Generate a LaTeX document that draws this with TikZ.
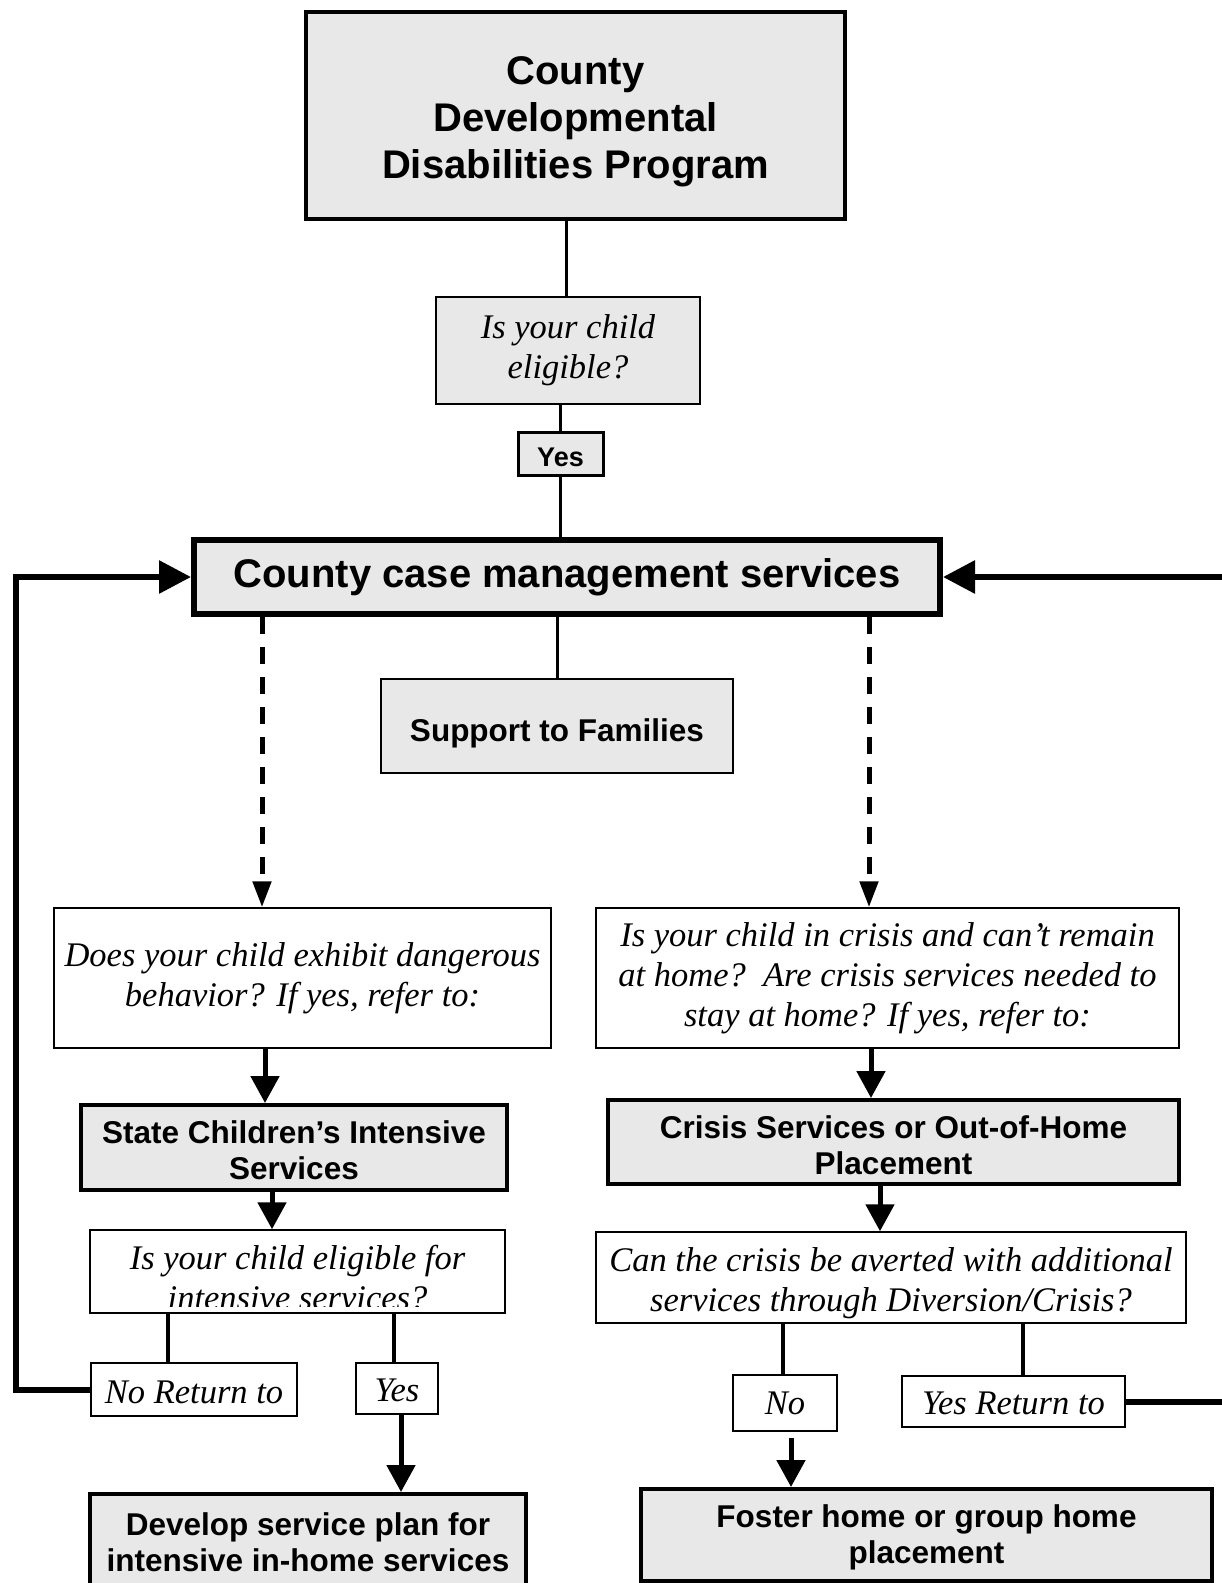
\documentclass[tikz,border=0pt]{standalone}
\usepackage{fontspec}
\setmainfont{Liberation Serif}
\setsansfont{Liberation Sans}
\usetikzlibrary{arrows.meta}
\definecolor{boxgray}{RGB}{232,232,232}
\begin{document}
\begin{tikzpicture}[x=1pt,y=-1pt,
  every node/.style={inner sep=0pt, align=center, rectangle},
  bigfont/.style={font=\sffamily\bfseries\fontsize{40}{47}\selectfont},
  midfont/.style={font=\sffamily\bfseries\fontsize{31.5}{36}\selectfont},
  qfont/.style={font=\rmfamily\itshape\fontsize{34.5}{40}\selectfont},
  yesfont/.style={font=\sffamily\bfseries\fontsize{27}{31}\selectfont},
  topbox/.style={draw, fill=boxgray, line width=4.5pt, bigfont},
  casebox/.style={draw, fill=boxgray, line width=6pt, bigfont},
  boldbox/.style={draw, fill=boxgray, line width=4pt, midfont},
  supbox/.style={draw, fill=boxgray, line width=2pt, midfont},
  yesbox/.style={draw, fill=boxgray, line width=3pt, yesfont},
  graybq/.style={draw, fill=boxgray, line width=1.5pt, qfont},
  qbox/.style={draw, fill=white, line width=1.5pt, qfont},
  conn/.style={line width=3pt},
  solidarrow/.style={line width=5pt, -{Triangle[length=27pt,width=28pt]}},
  dasharrow/.style={line width=5pt, dash pattern=on 17pt off 13pt, -{Triangle[length=26pt,width=18pt]}},
  retarrow/.style={line width=6pt, line join=miter, -{Triangle[length=32pt,width=32pt]}},
]
\useasboundingbox (0,0) rectangle (1222,1583);
\clip (0,0) rectangle (1222,1583);

% x positions of connectors
\coordinate (xT) at (566,0);
\coordinate (xL) at (262,0);
\coordinate (xR) at (869,0);
\coordinate (xA) at (265,0);
\coordinate (xB) at (871,0);
\coordinate (xC) at (272,0);
\coordinate (xD) at (880,0);
\coordinate (xE) at (168,0);
\coordinate (xF) at (394,0);
\coordinate (xG) at (401,0);
\coordinate (xH) at (783,0);
\coordinate (xI) at (1023,0);
\coordinate (xJ) at (791,0);
\coordinate (xK) at (16,0);
\coordinate (xM) at (1229,0);

% boxes
\node[topbox, minimum width=539, minimum height=207] (top) at (575.5,115.5) {};
\node[bigfont] (toptext) at ([yshift=-6pt]top.center)
  {County\\Developmental\\Disabilities Program};
\node[graybq, minimum width=264, minimum height=107] (q1) at (568,350.5)
  {Is your child\\eligible?};
\node[yesbox, minimum width=85, minimum height=43] (yes1) at (560.5,453.5) {};
\node[yesfont] (yes1text) at ([yshift=-4pt]yes1.center) {Yes};
\node[casebox, minimum width=746, minimum height=74] (case) at (567,577)
  {County case management services};
\node[supbox, minimum width=352, minimum height=94] (sup) at (557,726) {};
\node[midfont] (suptext) at ([yshift=-7pt]sup.center) {Support to Families};
\node[qbox, minimum width=497, minimum height=140] (q2) at (302.5,978)
  {Does your child exhibit dangerous\\behavior? If yes, refer to:};
\node[qbox, minimum width=583, minimum height=140] (q3) at (887.5,978)
  {Is your child in crisis and can’t remain\\at home?\ \ Are crisis services needed to\\stay at home? If yes, refer to:};
\node[boldbox, minimum width=426, minimum height=85] (state) at (294,1147.5) {};
\node[midfont] (statetext) at ([yshift=-3pt]state.center)
  {State Children’s Intensive\\Services};
\node[boldbox, minimum width=571, minimum height=84] (crisis) at (893.5,1142) {};
\node[midfont] (crisistext) at ([yshift=-3pt]crisis.center)
  {Crisis Services or Out-of-Home\\Placement};
\node[qbox, minimum width=415, minimum height=83] (elig) at (297.5,1271.5) {};
\begin{scope}
  \clip ([yshift=7pt]elig.south west) rectangle (elig.north east);
  \node[qfont] (eligtext) at (297.5,1278) {Is your child eligible for\\intensive services?};
\end{scope}
\node[qbox, minimum width=590, minimum height=91] (avert) at (891,1277.5) {};
\node[qfont] (averttext) at ([yshift=-6pt]avert.center)
  {Can the crisis be averted with additional\\services through Diversion/Crisis?};
\node[qbox, minimum width=206, minimum height=53] (no1) at (194,1389.5) {};
\node[qfont] (no1text) at ([yshift=-3pt]no1.center) {No Return to};
\node[qbox, minimum width=82, minimum height=51] (yes2) at (397,1388.5) {};
\node[qfont] (yes2text) at ([yshift=-2pt]yes2.center) {Yes};
\node[boldbox, minimum width=436, minimum height=96] (dev) at (308,1542)
  {Develop service plan for\\intensive in-home services};
\node[qbox, minimum width=104, minimum height=56] (no2) at (785,1403) {No};
\node[qbox, minimum width=223, minimum height=51] (yesret) at (1013.5,1401.5) {};
\node[qfont] (yesrettext) at ([yshift=-2pt]yesret.center) {Yes Return to};
\node[boldbox, minimum width=571, minimum height=92] (foster) at (926.5,1535) {};
\node[midfont] (fostertext) at ([yshift=-2pt]foster.center)
  {Foster home or group home\\placement};

% connectors
\draw[conn] (top.south -| xT) -- (q1.north -| xT);
\draw[line width=2.5pt] (yes1.north |- q1.south) -- (yes1.north);
\draw[conn] (yes1.south) -- (yes1.south |- case.north);
\draw[conn] (sup.north |- case.south) -- (sup.north);
\draw[dasharrow] (case.south -| xL) -- (q2.north -| xL);
\draw[dasharrow] (case.south -| xR) -- (q3.north -| xR);
\draw[solidarrow] (q2.south -| xA) -- (state.north -| xA);
\draw[solidarrow] (q3.south -| xB) -- (crisis.north -| xB);
\draw[solidarrow] (state.south -| xC) -- (elig.north -| xC);
\draw[solidarrow] (crisis.south -| xD) -- (avert.north -| xD);
\draw[line width=3.5pt] (elig.south -| xE) -- (no1.north -| xE);
\draw[line width=3.5pt] (elig.south -| xF) -- (yes2.north -| xF);
\draw[solidarrow] (yes2.south -| xG) -- (dev.north -| xG);
\draw[line width=3.5pt] (avert.south -| xH) -- (no2.north -| xH);
\draw[line width=3.5pt] (avert.south -| xI) -- (yesret.north -| xI);
\draw[solidarrow] ([yshift=-6pt]no2.south -| xJ) -- (foster.north -| xJ);
\draw[retarrow] (no1.west) -- (no1.west -| xK) |- (case.west);
\draw[retarrow] (yesret.east) -- (yesret.east -| xM) |- (case.east);
\end{tikzpicture}
\end{document}
